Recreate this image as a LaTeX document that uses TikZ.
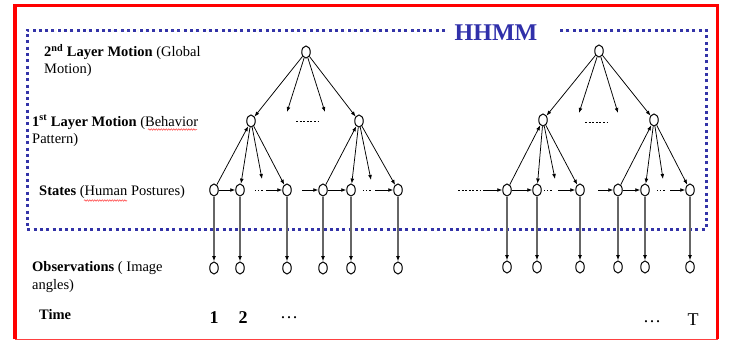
\documentclass[tikz,border=0pt]{standalone}
\usepackage{fontspec}
\setmainfont{Liberation Serif}
\usetikzlibrary{shapes.geometric,arrows.meta,decorations.pathmorphing}
\definecolor{boxblue}{RGB}{52,52,168}
\definecolor{titleblue}{RGB}{48,48,170}

\begin{document}
\begin{tikzpicture}[x=1pt,y=-1pt,
  st/.style={ellipse,draw,line width=1pt,minimum width=8.5pt,minimum height=12pt,inner sep=0pt,fill=white},
  ar/.style={-{Latex[length=5pt,width=3.8pt]},line width=0.75pt},
  obsline/.style={-{Latex[length=5.5pt,width=4pt,black]},line width=1.1pt,black!60},
  gap/.style={line width=0.8pt,dash pattern=on 1.2pt off 2pt},
  dashgap/.style={line width=0.7pt,dash pattern=on 2pt off 1.6pt},
  lbl/.style={anchor=west,align=left,inner sep=0pt,font=\fontsize{14.5}{17.5}\selectfont},
  squig/.style={red!80,line width=0.5pt,decorate,decoration={snake,amplitude=0.7pt,segment length=2.5pt}},
  frame/.style={red,line width=3.2pt},
  dots/.style={draw=boxblue,line width=3pt,dash pattern=on 3pt off 3.3pt}
]
\fill[white] (0,0) rectangle (730,341);
\useasboundingbox (0,0) rectangle (730,341);

% outer frame
\draw[frame] (15,339) -- (15,5.5) -- (717.5,5.5) -- (717.5,339);
\draw[red!75,line width=1pt] (15,339.5) -- (717.5,339.5);

% dotted HHMM box, open at the title
\draw[dots] (445,30) -- (27,30) -- (27,229) -- (706,229) -- (706,30) -- (557,30);
\node[text=titleblue,font=\bfseries\fontsize{24}{26}\selectfont,inner sep=0pt] (title) at (496,33) {HHMM};

% row labels
\node[lbl] (l2) at (44,60.5) {\textbf{2\textsuperscript{nd} Layer Motion} (Global\\Motion)};
\node[lbl] (l1) at (32,131) {\textbf{1\textsuperscript{st} Layer Motion} (Behavior\\Pattern)};
\node[lbl] (ls) at (39,192) {\textbf{States} (Human Postures)};
\node[lbl] (lo) at (32,277) {\textbf{Observations} ( Image\\angles)};
\node[lbl] (lt) at (39,315) {\textbf{Time}};
\draw[squig] (148,129.5) -- (197,129.5);
\draw[squig] (84,200.5) -- (127,200.5);

% ---------- left tree ----------
\node[st] (A) at (306,52) {};
\node[st] (B1) at (251,121) {};
\node[st] (B2) at (359,121) {};
\foreach \n/\x in {1/214,2/240,3/287,4/323,5/351,6/398}{
  \node[st] (s\n) at (\x,190) {};
  \node[st] (o\n) at (\x,268) {};
  \draw[obsline] (s\n) -- (o\n);
}
\coordinate (a1) at (287,112);
\coordinate (a2) at (325,112);
\coordinate (b1) at (262,179);
\coordinate (b2) at (371,180);
\draw[ar] (A) -- (B1);
\draw[ar] (A) -- (a1);
\draw[ar] (A) -- (a2);
\draw[ar] (A) -- (B2);
\draw[dashgap] (296,121.5) -- (318,121.5);
\draw[ar] (s1) -- (B1);
\draw[ar] (B1) -- (s2);
\draw[ar] (B1) -- (b1);
\draw[ar] (B1) -- (s3);
\draw[ar] (s4) -- (B2);
\draw[ar] (B2) -- (s5);
\draw[ar] (B2) -- (b2);
\draw[ar] (B2) -- (s6);
\coordinate (h1) at (266,190);
\coordinate (h2) at (302,190);
\coordinate (h3) at (375,190);
\draw[ar] (s1) -- (s2);
\draw[gap] (255,190) -- (263,190);
\draw[ar] (h1) -- (s3);
\draw[ar] (h2) -- (s4);
\draw[ar] (s4) -- (s5);
\draw[gap] (363,190) -- (371,190);
\draw[ar] (h3) -- (s6);

% ---------- right tree ----------
\node[st] (C) at (599,51) {};
\node[st] (D1) at (543,120) {};
\node[st] (D2) at (654,120) {};
\foreach \n/\x in {1/507,2/537,3/580,4/618,5/645,6/690}{
  \node[st] (r\n) at (\x,190) {};
  \node[st] (p\n) at (\x,267) {};
  \draw[obsline] (r\n) -- (p\n);
}
\coordinate (c1) at (579,113);
\coordinate (c2) at (618,113);
\coordinate (d1) at (555,179);
\coordinate (d2) at (663,179);
\draw[ar] (C) -- (D1);
\draw[ar] (C) -- (c1);
\draw[ar] (C) -- (c2);
\draw[ar] (C) -- (D2);
\draw[dashgap] (585,122) -- (608,122);
\draw[ar] (r1) -- (D1);
\draw[ar] (D1) -- (r2);
\draw[ar] (D1) -- (d1);
\draw[ar] (D1) -- (r3);
\draw[ar] (r4) -- (D2);
\draw[ar] (D2) -- (r5);
\draw[ar] (D2) -- (d2);
\draw[ar] (D2) -- (r6);
\coordinate (k0) at (483,190);
\coordinate (k1) at (558,190);
\coordinate (k2) at (598,190);
\coordinate (k3) at (670,190);
\draw[dashgap] (458,190) -- (480,190);
\draw[ar] (k0) -- (r1);
\draw[ar] (r1) -- (r2);
\draw[gap] (544,190) -- (552,190);
\draw[ar] (k1) -- (r3);
\draw[ar] (k2) -- (r4);
\draw[ar] (r4) -- (r5);
\draw[gap] (657,190) -- (665,190);
\draw[ar] (k3) -- (r6);

% time axis
\node[font=\bfseries\fontsize{18}{20}\selectfont,inner sep=0pt] (t1) at (214,318) {1};
\node[font=\bfseries\fontsize{18}{20}\selectfont,inner sep=0pt] (t2) at (243,318) {2};
\node[font=\fontsize{18}{20}\selectfont,inner sep=0pt] (t3) at (289,318) {\dots};
\node[font=\fontsize{18}{20}\selectfont,inner sep=0pt] (t4) at (652,322) {\dots};
\node[font=\fontsize{18}{20}\selectfont,inner sep=0pt] (tT) at (693,320) {T};
\end{tikzpicture}
\end{document}
